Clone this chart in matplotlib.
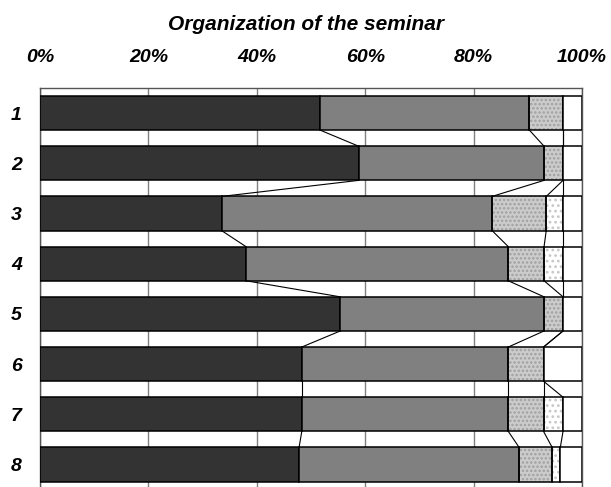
import numpy as np
import matplotlib
matplotlib.use("Agg")
import matplotlib.pyplot as plt

plt.rcParams['font.family'] = ['Liberation Sans', 'DejaVu Sans']
plt.rcParams['hatch.linewidth'] = 1.2

# rows of the chart (top to bottom)
categories = ["1", "2", "3", "4", "5", "6", "7", "8"]

# segment widths in % for each answer group
s1 = [51.7, 58.8, 33.5, 38.0, 55.4, 48.3, 48.3, 47.8]
s2 = [38.6, 34.2, 49.9, 48.4, 37.6, 38.1, 38.1, 40.6]
s3 = [6.2, 3.5, 10.0, 6.6, 3.5, 6.5, 6.5, 6.1]
s4 = [0.0, 0.0, 3.1, 3.5, 0.0, 0.0, 3.6, 1.5]
s5 = [3.5, 3.5, 3.5, 3.5, 3.5, 7.1, 3.5, 4.0]

ticks = [0, 20, 40, 60, 80, 100]
tick_labels = ["0%", "20%", "40%", "60%", "80%", "100%"]

series = [s1, s2, s3, s4, s5]
faces = ["#333333", "#808080", "#cccccc", "#ffffff", "#ffffff"]
hatches = [None, None, "....", "...", None]
hatch_cols = [None, None, "#a0a0a0", "#c8c8c8", None]

fig = plt.figure(figsize=(6.11, 4.87), dpi=100)
ax = fig.add_axes([40 / 611, (487 - 489.6) / 487, 542 / 611, 401.6 / 487])

y = np.arange(len(categories))
h = 0.68
left = np.zeros(len(categories))
ends = []
for vals, fc, ht, hc in zip(series, faces, hatches, hatch_cols):
    vals = np.array(vals)
    if ht:
        ax.barh(y, vals, left=left, height=h, color=fc, hatch=ht,
                edgecolor=hc, linewidth=0, zorder=2)
        ax.barh(y, vals, left=left, height=h, fill=False,
                edgecolor="black", linewidth=1.1, zorder=3)
    else:
        ax.barh(y, vals, left=left, height=h, color=fc,
                edgecolor="black", linewidth=1.1, zorder=3)
    left = left + vals
    ends.append(left.copy())

# series lines between neighbouring bars
for e in ends[:-1]:
    for i in range(len(categories) - 1):
        ax.plot([e[i], e[i + 1]], [y[i] + h / 2, y[i + 1] - h / 2],
                color="black", linewidth=0.8, zorder=4)

ax.set_xlim(0, 100)
ax.set_ylim(len(categories) - 0.5, -0.5)
ax.xaxis.tick_top()
ax.set_xticks(ticks)
ax.set_xticklabels(tick_labels, fontsize=14, fontweight="bold", fontstyle="italic")
ax.tick_params(axis="x", length=0, pad=16)
ax.set_yticks(y)
ax.set_yticklabels(categories, fontsize=14, fontweight="bold", fontstyle="italic")
ax.tick_params(axis="y", length=0, pad=13)
ax.grid(axis="x", color="#808080", linewidth=1, zorder=0)
ax.set_axisbelow(True)
for sp in ax.spines.values():
    sp.set_color("#555555")
    sp.set_linewidth(1)

fig.text(0.5, 1 - 25 / 487, "Organization of the seminar", ha="center", va="center",
         fontsize=15, fontweight="bold", fontstyle="italic")

fig.savefig("out.png", dpi=100)
